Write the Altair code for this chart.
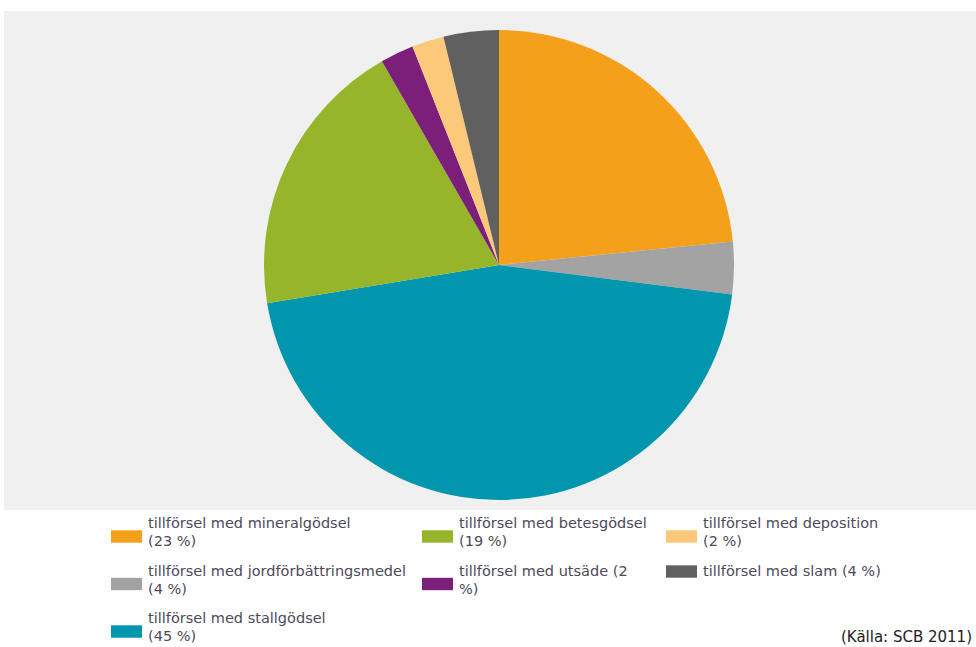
import altair as alt
import pandas as pd

# Data (pie order, clockwise from 12 o'clock)
categories = [
    "tillförsel med mineralgödsel",
    "tillförsel med jordförbättringsmedel",
    "tillförsel med stallgödsel",
    "tillförsel med betesgödsel",
    "tillförsel med utsäde",
    "tillförsel med deposition",
    "tillförsel med slam",
]
values = [23.4, 3.6, 45.4, 19.3, 2.3, 2.2, 3.8]
legend_labels = [
    "tillförsel med mineralgödsel\n(23 %)",
    "tillförsel med jordförbättringsmedel\n(4 %)",
    "tillförsel med stallgödsel\n(45 %)",
    "tillförsel med betesgödsel\n(19 %)",
    "tillförsel med utsäde (2\n%)",
    "tillförsel med deposition\n(2 %)",
    "tillförsel med slam (4 %)",
]
# order in which the legend is filled (row by row, 3 columns)
legend_order = [
    "tillförsel med mineralgödsel",
    "tillförsel med betesgödsel",
    "tillförsel med deposition",
    "tillförsel med jordförbättringsmedel",
    "tillförsel med utsäde",
    "tillförsel med slam",
    "tillförsel med stallgödsel",
]
colors = ["#F4A01B", "#A3A3A3", "#0096AE", "#97B52B", "#7B1F7A", "#FCC97A", "#606060"]
source_text = "(Källa: SCB 2011)"

df = pd.DataFrame({
    "kategori": categories,
    "varde": values,
    "etikett": legend_labels,
    "idx": list(range(len(categories))),
})
df["lpos"] = df["kategori"].map({c: i for i, c in enumerate(legend_order)})
df["col"] = df["lpos"] % 3
df["row"] = df["lpos"] // 3
df["nlines"] = df["etikett"].str.count("\n") + 1

color_scale = alt.Scale(domain=categories, range=colors)

pie = alt.Chart(df).mark_arc(radius=235).encode(
    theta=alt.Theta("varde:Q", stack=True),
    order=alt.Order("idx:Q"),
    color=alt.Color("kategori:N", scale=color_scale, legend=None),
    x=alt.value(495),
    y=alt.value(254),
).properties(
    width=972, height=499,
    view=alt.ViewBackground(fill="#F0F0F0", stroke=None),
)

xs = alt.Scale(domain=[0, 1, 2], range=[107, 418, 662])
ys = alt.Scale(domain=[0, 2], range=[7, 102])

base = alt.Chart(df)

swatches = base.transform_calculate(
    sy="datum.row + (7 + (datum.nlines - 1) * 12.5) / 47.5"
).mark_point(
    shape="M-1,-0.4H1V0.4H-1Z", filled=True, opacity=1, size=961, xOffset=15.5, strokeWidth=0
).encode(
    x=alt.X("col:Q", scale=xs, axis=None),
    y=alt.Y("sy:Q", scale=ys, axis=None),
    color=alt.Color("kategori:N", scale=color_scale, legend=None),
)

labels = base.mark_text(
    align="left", baseline="top", dx=37, lineBreak="\n", lineHeight=18,
    font="DejaVu Sans", fontSize=14.5, color="#4d4a5a",
).encode(
    x=alt.X("col:Q", scale=xs, axis=None),
    y=alt.Y("row:Q", scale=ys, axis=None),
    text="etikett:N",
)

source = alt.Chart(pd.DataFrame({"t": [source_text]})).mark_text(
    align="right", baseline="middle", font="DejaVu Sans", fontSize=15, color="#222222",
).encode(
    x=alt.value(968), y=alt.value(127), text="t:N",
)

legend = alt.layer(swatches, labels, source).properties(
    width=972, height=137,
    view=alt.ViewBackground(fill="white", stroke=None),
).resolve_scale(x="shared", y="shared")

chart = alt.vconcat(pie, legend, spacing=0).properties(
    padding={"left": 4, "top": 11, "right": 0, "bottom": 0},
    background="white",
).configure_view(stroke=None)

chart.save("out.html", embed_options={"renderer": "svg", "actions": False})
